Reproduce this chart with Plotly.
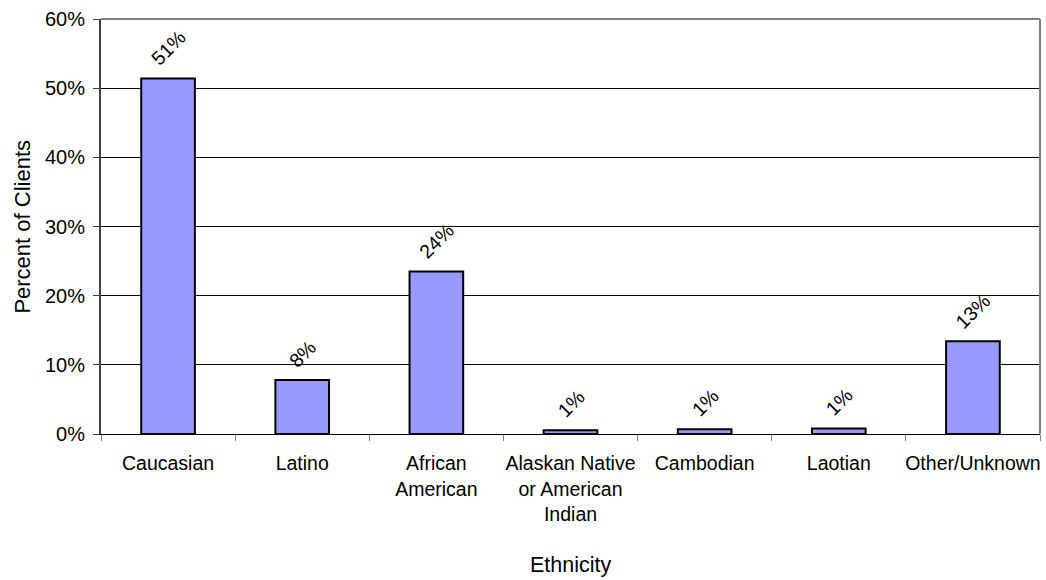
import plotly.graph_objects as go

# Client ethnicity breakdown
categories = [
    "Caucasian",
    "Latino",
    "African<br>American",
    "Alaskan Native<br>or American<br>Indian",
    "Cambodian",
    "Laotian",
    "Other/Unknown",
]
percent_clients = [51.4, 7.8, 23.5, 0.55, 0.7, 0.8, 13.4]
value_labels = ["51%", "8%", "24%", "1%", "1%", "1%", "13%"]
y_tick_values = [0, 10, 20, 30, 40, 50, 60]
y_tick_labels = ["0%", "10%", "20%", "30%", "40%", "50%", "60%"]

FONT = "Liberation Sans, Arial, sans-serif"

fig = go.Figure()
fig.add_trace(
    go.Bar(
        x=categories,
        y=percent_clients,
        width=0.4,
        marker=dict(color="#9999FF", line=dict(color="#000000", width=2)),
        hoverinfo="x+y",
    )
)

# rotated value labels above each bar
for cat, val, lab in zip(categories, percent_clients, value_labels):
    fig.add_annotation(
        x=cat, y=val, text=lab, textangle=-45,
        showarrow=False, xanchor="center", yanchor="bottom", yshift=6,
        font=dict(family=FONT, size=19.5, color="#000000"),
    )

# axis titles
fig.add_annotation(
    xref="paper", yref="paper", x=0.5, y=-0.316, text="Ethnicity",
    showarrow=False, xanchor="center", yanchor="middle",
    font=dict(family=FONT, size=21.5, color="#000000"),
)
fig.add_annotation(
    xref="paper", yref="paper", x=-0.084, y=0.5, text="Percent of Clients",
    textangle=-90, showarrow=False, xanchor="center", yanchor="middle",
    font=dict(family=FONT, size=22, color="#000000"),
)

# grey frame on the top and right of the plot area
fig.add_shape(type="line", xref="paper", yref="paper", x0=0, x1=1, y0=1, y1=1,
              line=dict(color="#808080", width=2))
fig.add_shape(type="line", xref="paper", yref="paper", x0=1, x1=1, y0=0, y1=1,
              line=dict(color="#808080", width=2))

fig.update_layout(
    width=1046,
    height=580,
    margin=dict(l=101, r=6, t=19, b=146),
    paper_bgcolor="#FFFFFF",
    plot_bgcolor="#FFFFFF",
    showlegend=False,
    bargap=0.6,
    font=dict(family=FONT, size=19, color="#000000"),
    xaxis=dict(
        showline=True, linecolor="#000000", linewidth=1,
        ticks="outside", tickson="boundaries", ticklen=6, tickwidth=1,
        tickcolor="#808080",
        tickangle=0, automargin=False,
        ticklabelstandoff=12,
        tickfont=dict(family=FONT, size=19.5, color="#000000"),
        showgrid=False,
    ),
    yaxis=dict(
        range=[0, 60],
        tickvals=y_tick_values,
        ticktext=y_tick_labels,
        showline=True, linecolor="#404040", linewidth=2,
        ticks="outside", ticklen=6, tickwidth=1, tickcolor="#404040",
        ticklabelstandoff=4, automargin=False,
        tickfont=dict(family=FONT, size=20, color="#000000"),
        showgrid=True, gridcolor="#000000", gridwidth=1,
        zeroline=False,
    ),
)

fig.write_html("out.html")
